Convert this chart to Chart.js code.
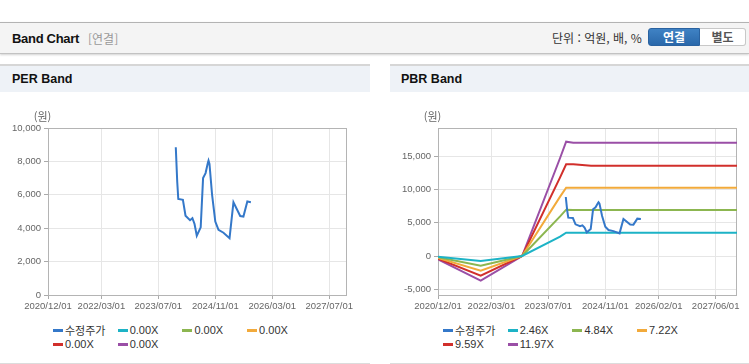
<!DOCTYPE html>
<html lang="ko">
<head>
<meta charset="utf-8">
<script src="https://cdn.jsdelivr.net/npm/chart.js@4.4.1/dist/chart.umd.min.js"></script>
<style>
  body { margin: 0; width: 749px; height: 364px; overflow: hidden; position: relative; background: #fff;
         font-family: "Liberation Sans", "Noto Sans CJK KR", sans-serif; }
  .top { position: absolute; left: 0; top: 22px; width: 749px; height: 30px; background: #f4f4f4;
         border-top: 1px solid #b3b3b3; border-bottom: 1px solid #c2c2c2; box-shadow: 0 1px 2px rgba(0,0,0,.18); }
  .top .ttl { position: absolute; left: 12px; top: 8px; font-weight: bold; font-size: 13px; color: #111; letter-spacing: -0.3px; }
  .top .sub { position: absolute; left: 88px; top: 8px; font-size: 12px; color: #999; font-family: "Noto Sans CJK KR", sans-serif; line-height: 15px; }
  .top .unit { position: absolute; left: 552px; top: 7px; font-size: 12px; color: #333; font-family: "Noto Sans CJK KR", sans-serif; line-height: 16px; }
  .btn { position: absolute; top: 5px; height: 18px; font-size: 12px; font-weight: bold; text-align: center; line-height: 18px;
         font-family: "Noto Sans CJK KR", sans-serif; box-sizing: border-box; }
  .btn.on { left: 648px; width: 52px; background: linear-gradient(#3f82c4, #2a68aa); color: #fff; border-radius: 3px 0 0 3px; border: 1px solid #2a62a0; line-height: 16px; }
  .btn.off { left: 700px; width: 46px; background: #fff; color: #555; border: 1px solid #c8c8c8; border-left: none; border-radius: 0 3px 3px 0; line-height: 16px; }
  .panel { position: absolute; top: 64px; height: 297px; border-top: 2px solid #d6d6d6; border-bottom: 1px solid #dcdcdc; background: #fff; }
  .panel .hd { height: 26px; background: #eef2f7; font-weight: bold; font-size: 12.5px; line-height: 27px; color: #111; }
  .cbox { position: absolute; top: 92px; height: 228px; }
  .leg { position: absolute; height: 14px; font-size: 11px; color: #333; line-height: 14px; white-space: nowrap; }
  .leg i { position: absolute; left: 0; top: 6px; width: 10px; height: 3px; }
  .leg span { position: absolute; left: 12px; top: 0; }
</style>
</head>
<body>
<div class="top">
  <div class="ttl">Band Chart</div>
  <div class="sub">[연결]</div>
  <div class="unit">단위 : 억원, 배, %</div>
  <div class="btn on">연결</div>
  <div class="btn off">별도</div>
</div>
<div class="panel" style="left:0;width:370px;"><div class="hd" style="padding-left:12px;">PER Band</div></div>
<div class="panel" style="left:390px;width:359px;"><div class="hd" style="padding-left:11px;">PBR Band</div></div>
<div class="cbox" style="left:0;width:370px;"><canvas id="perChart"></canvas></div>
<div class="cbox" style="left:390px;width:359px;"><canvas id="pbrChart"></canvas></div>
<div id="perLegend"></div>
<div id="pbrLegend"></div>
<script>
// x range and tick labels
var xStart = '2020/12/01';
var xEnd = '2027/12/01';
var perTickLabels = ['2020/12/01', '2022/03/01', '2023/07/01', '2024/11/01', '2026/03/01', '2027/07/01'];
var pbrTickLabels = ['2020/12/01', '2022/03/01', '2023/07/01', '2024/11/01', '2026/02/01', '2027/06/01'];
var perYTicks = [0, 2000, 4000, 6000, 8000, 10000];
var pbrYTicks = [-5000, 0, 5000, 10000, 15000];

// 수정주가
var priceDates = ['2023/11/28', '2023/12/10', '2023/12/19', '2024/01/28', '2024/02/20', '2024/03/28', '2024/04/18',
  '2024/05/06', '2024/05/25', '2024/06/28', '2024/07/18', '2024/08/09', '2024/08/28', '2024/09/04', '2024/09/12',
  '2024/10/04', '2024/11/01', '2024/11/28', '2025/01/10', '2025/03/01', '2025/04/04', '2025/06/01', '2025/06/28',
  '2025/08/01', '2025/09/01'];
var priceValues = [8850, 6800, 5750, 5700, 4750, 4480, 4600,
  4250, 3550, 4050, 7000, 7300, 7900, 8050, 7850,
  6000, 4400, 3900, 3730, 3400, 5550, 4730, 4700,
  5600, 5550];

// PBR band lines
var bandDates = ['2020/12/01', '2021/12/01', '2022/11/20', '2023/10/10', '2023/12/01', '2024/02/01', '2024/07/01', '2027/12/01'];
var band246 = [-100, -750, 0, 2900, 3500, 3500, 3500, 3500];
var band484 = [-200, -1450, 0, 5950, 6950, 6900, 6900, 6900];
var band722 = [-300, -2200, 0, 8900, 10250, 10250, 10250, 10250];
var band959 = [-400, -2950, 0, 11800, 13750, 13750, 13550, 13550];
var band1197 = [-500, -3700, 0, 14700, 17150, 17000, 17000, 17000];

var perLabels = ['수정주가', '0.00X', '0.00X', '0.00X', '0.00X', '0.00X'];
var pbrLabels = ['수정주가', '2.46X', '4.84X', '7.22X', '9.59X', '11.97X'];
var lineColors = ['#3478c9', '#1db3c6', '#8cb650', '#f2aa3b', '#d12f2b', '#9a4fa6'];

function toMonth(s) {
  var p = s.split('/');
  return (+p[0] - 2020) * 12 + (+p[1] - 12) + (+p[2] - 1) / 30;
}
function points(dates, values) {
  return dates.map(function (d, i) { return { x: toMonth(d), y: values[i] }; });
}

Chart.defaults.font.family = '"Liberation Sans", Arial, sans-serif';
Chart.defaults.font.size = 9.5;
Chart.defaults.color = '#666';

var boxPlugin = {
  id: 'box',
  beforeDatasetsDraw: function (chart) {
    var a = chart.chartArea, ctx = chart.ctx;
    ctx.save();
    ctx.strokeStyle = '#b4b4b4';
    ctx.lineWidth = 1;
    ctx.strokeRect(Math.round(a.left) + 0.5, Math.round(a.top) + 0.5, Math.round(a.width) - 1, Math.round(a.height));
    ctx.restore();
  },
  afterDraw: function (chart) {
    var a = chart.chartArea, ctx = chart.ctx;
    ctx.save();
    ctx.font = '11px "Noto Sans CJK KR", sans-serif';
    ctx.fillStyle = '#666';
    ctx.textAlign = 'center';
    ctx.textBaseline = 'middle';
    ctx.fillText('(원)', a.left - 5.5, a.top - 11);
    ctx.restore();
  }
};

function makeDatasets(labels, bands) {
  var ds = [{
    label: labels[0],
    data: points(priceDates, priceValues),
    borderColor: lineColors[0],
    backgroundColor: lineColors[0]
  }];
  for (var i = 1; i < labels.length; i++) {
    ds.push({
      label: labels[i],
      data: bands ? points(bandDates, bands[i - 1]) : [],
      borderColor: lineColors[i],
      backgroundColor: lineColors[i]
    });
  }
  return ds;
}

function makeChart(id, datasets, tickLabels, yTicks, yMin, yMax, padRight) {
  return new Chart(document.getElementById(id), {
    type: 'line',
    data: { datasets: datasets },
    options: {
      responsive: true,
      maintainAspectRatio: false,
      animation: false,
      parsing: true,
      elements: {
        line: { borderWidth: 2, tension: 0 },
        point: { radius: 0 }
      },
      layout: { padding: { left: 0, right: padRight, top: 36, bottom: 0 } },
      plugins: { legend: { display: false }, tooltip: { enabled: false } },
      scales: {
        x: {
          type: 'linear',
          min: toMonth(xStart),
          max: toMonth(xEnd),
          afterBuildTicks: function (axis) {
            axis.ticks = tickLabels.map(function (t) { return { value: toMonth(t) }; });
          },
          afterFit: function (axis) { axis.height = 25; },
          ticks: {
            autoSkip: false,
            maxRotation: 0,
            padding: 2,
            callback: function (value, index) { return tickLabels[index]; }
          },
          grid: { color: '#e6e6e6', tickColor: '#aaa', tickLength: 4 },
          border: { display: false }
        },
        y: {
          min: yMin,
          max: yMax,
          afterBuildTicks: function (axis) {
            axis.ticks = yTicks.map(function (v) { return { value: v }; });
          },
          afterFit: function (axis) { axis.width = 48; },
          ticks: {
            padding: 3,
            callback: function (value) { return value.toLocaleString('en-US'); }
          },
          grid: { color: '#e6e6e6', tickColor: '#aaa', tickLength: 4 },
          border: { display: false }
        }
      }
    },
    plugins: [boxPlugin]
  });
}

function makeLegend(id, labels, left) {
  var box = document.getElementById(id);
  labels.forEach(function (lab, i) {
    var item = document.createElement('div');
    item.className = 'leg';
    item.style.left = (left + (i % 4) * 64.7) + 'px';
    item.style.top = (323 + Math.floor(i / 4) * 14) + 'px';
    item.innerHTML = '<i style="background:' + lineColors[i] + '"></i><span>' + lab + '</span>';
    if (i === 0) item.querySelector('span').style.fontFamily = '"Noto Sans CJK KR", sans-serif';
    box.appendChild(item);
  });
}

makeChart('perChart', makeDatasets(perLabels, null), perTickLabels, perYTicks, 0, 10000, 23);
makeChart('pbrChart', makeDatasets(pbrLabels, [band246, band484, band722, band959, band1197]),
  pbrTickLabels, pbrYTicks, -5850, 19200, 12);
makeLegend('perLegend', perLabels, 53);
makeLegend('pbrLegend', pbrLabels, 443);
</script>
</body>
</html>
